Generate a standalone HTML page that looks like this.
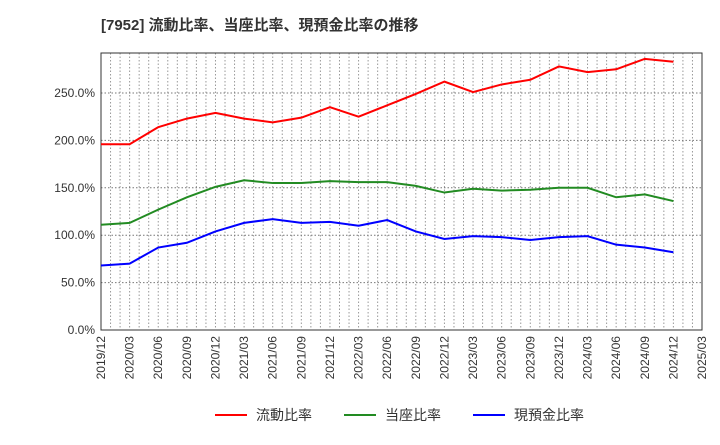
<!DOCTYPE html>
<html><head><meta charset="utf-8"><style>
body{margin:0;background:#fff;font-family:"Liberation Sans","Noto Sans CJK JP",sans-serif}
</style></head><body>
<svg id="c" width="720" height="440" xmlns="http://www.w3.org/2000/svg">
<text x="101" y="30" font-size="15" font-weight="bold" fill="#333" font-family="Liberation Sans,Noto Sans CJK JP,sans-serif">[7952]  流動比率、当座比率、現預金比率の推移</text>
<g id="grid"></g><g id="ax"></g><g id="series"></g>
<g font-size="14" fill="#333">
<line x1="215" y1="415" x2="247" y2="415" stroke="#f00" stroke-width="2"/><text x="256" y="420">流動比率</text>
<line x1="344" y1="415" x2="376" y2="415" stroke="#228b22" stroke-width="2"/><text x="385" y="420">当座比率</text>
<line x1="473" y1="415" x2="505" y2="415" stroke="#00f" stroke-width="2"/><text x="514" y="420">現預金比率</text>
</g>
</svg>
<script>
const xLabels=["2019/12","2020/03","2020/06","2020/09","2020/12","2021/03","2021/06","2021/09","2021/12","2022/03","2022/06","2022/09","2022/12","2023/03","2023/06","2023/09","2023/12","2024/03","2024/06","2024/09","2024/12","2025/03"];
const yTicks=[0,50,100,150,200,250];
const current=[196,196,214,223,229,223,219,224,235,225,237,249,262,251,259,264,278,272,275,286,283];
const quick=[111,113,127,140,151,158,155,155,157,156,156,152,145,149,147,148,150,150,140,143,136];
const cash=[68,70,87,92,104,113,117,113,114,110,116,104,96,99,98,95,98,99,90,87,82];
const L=101,R=702,T=53,B=330;
const X=i=>L+(R-L)*i/(xLabels.length-1);
const Y=v=>B-v*(B-93)/250;
const NS="http://www.w3.org/2000/svg";
function mk(p,t,a){const e=document.createElementNS(NS,t);for(const k in a)e.setAttribute(k,a[k]);p.appendChild(e);return e;}
const g=document.getElementById('grid'),ax=document.getElementById('ax'),s=document.getElementById('series');
for(let m=0;m<=63;m++){const x=L+(R-L)*m/63;
const l=mk(g,'line',{x1:x,x2:x,y1:T,y2:B,stroke:'#999','stroke-dasharray':'1.5,2','stroke-width':1});

}
yTicks.forEach(v=>{const l=mk(g,'line',{x1:L,x2:R,y1:Y(v),y2:Y(v),stroke:'#777','stroke-dasharray':'1.5,2'});


const t=mk(ax,'text',{x:L-6,y:Y(v)+4,'text-anchor':'end','font-size':12,fill:'#333'});t.textContent=v.toFixed(1)+'%';

});
const fr=mk(ax,'rect',{x:L,y:T,width:R-L,height:B-T,fill:'none',stroke:'#333'});


xLabels.forEach((lb,i)=>{const x=X(i);const t=mk(ax,'text',{x:x+4,y:B+6,'text-anchor':'end','font-size':12,fill:'#333',transform:`rotate(-90 ${x+4} ${B+6})`});t.textContent=lb;

});
[[current,'#f00','current-ratio-line'],[quick,'#228b22','quick-ratio-line'],[cash,'#00f','cash-ratio-line']].forEach(([d,c,n])=>{
const p=mk(s,'polyline',{points:d.map((v,i)=>X(i)+','+Y(v)).join(' '),fill:'none',stroke:c,'stroke-width':2});

});
</script>
</body></html>
